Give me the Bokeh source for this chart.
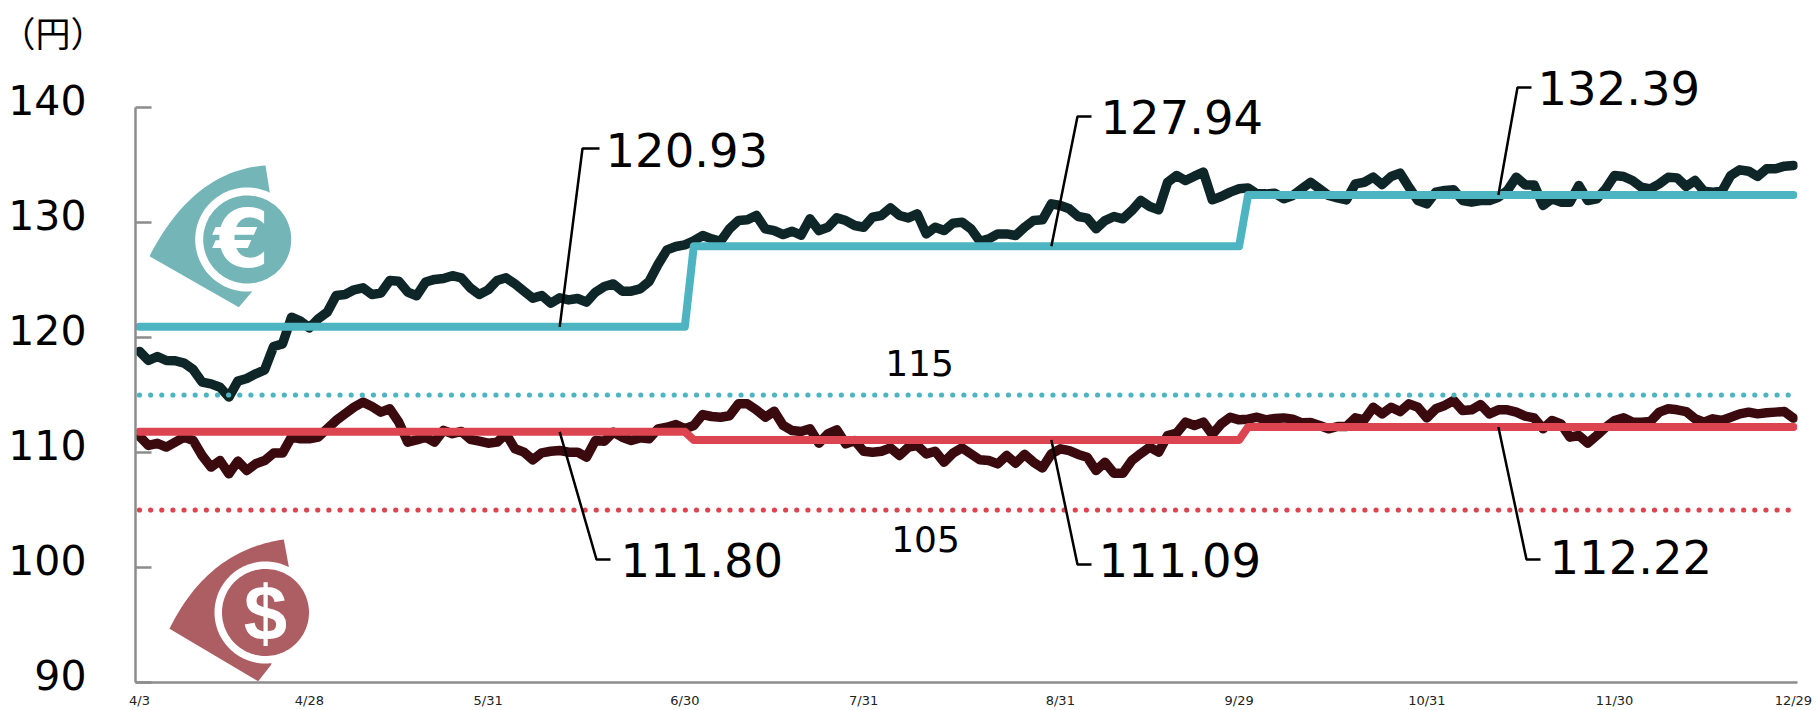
import numpy as np
from bokeh.plotting import figure
from bokeh.models import Range1d, LinearAxis, FixedTicker
from bokeh.core.properties import value
from bokeh.embed import file_html
from bokeh.resources import INLINE

# ---- data ----
eur = [118.79,118.0,118.35,118.0,117.98,117.77,117.22,116.12,115.97,115.68,114.82,116.21,116.44,116.84,117.19,119.22,119.45,121.77,121.42,120.84,
121.63,122.2,123.66,123.74,124.15,124.32,123.74,123.86,124.96,124.9,123.95,123.63,124.82,125.05,125.13,125.37,125.19,124.32,123.74,124.14,
124.95,125.19,124.66,124.03,123.42,123.65,122.98,123.45,123.27,123.39,123.07,123.94,124.43,124.66,124.03,124.03,124.23,124.87,126.34,127.62,
127.91,128.05,128.4,128.87,128.58,128.37,129.45,130.17,130.23,130.61,129.45,129.3,128.95,129.24,128.9,130.32,129.3,129.59,130.4,130.17,
129.74,129.59,130.46,130.61,131.27,130.61,130.4,130.75,129.01,129.59,129.3,129.94,130.03,129.45,128.37,128.58,129.01,129.01,128.87,129.59,
130.17,130.23,131.62,131.48,131.19,130.52,130.38,129.45,130.17,130.52,130.32,131.04,131.91,131.39,131.1,133.5,134.09,133.65,134.03,134.38,
131.97,132.26,132.64,132.93,133.01,132.49,132.49,132.55,132.06,132.35,132.93,133.5,132.93,132.35,132.14,131.97,133.36,133.5,133.94,133.3,
134.0,134.29,133.07,131.91,131.62,132.64,132.78,132.84,131.91,131.77,131.91,131.91,132.2,132.78,133.94,133.27,133.27,131.48,132.06,131.77,
131.77,133.22,131.91,132.06,132.93,134.09,134.0,133.65,133.07,132.93,133.36,133.94,133.88,133.13,133.65,132.72,132.64,132.72,134.09,134.58,
134.46,134.0,134.67,134.67,134.9,134.96]
usd = [111.42,110.61,110.8,110.47,110.9,111.34,111.05,109.74,108.73,109.3,108.15,109.25,108.44,109.02,109.3,109.95,109.95,111.34,111.19,111.19,
111.34,112.06,112.79,113.37,113.95,114.38,114.0,113.51,113.8,112.64,110.9,111.1,111.34,110.9,111.92,111.63,111.83,111.15,110.98,110.81,
110.9,111.62,110.32,110.03,109.36,109.97,110.11,110.17,110.03,110.03,109.59,111.04,110.98,111.77,111.33,111.04,111.27,111.19,112.06,112.2,
112.43,112.06,112.35,113.3,113.13,113.07,113.2,114.23,114.23,113.71,113.07,113.59,112.35,111.91,111.82,112.06,110.81,111.62,111.97,110.75,
111.04,110.11,110.03,110.11,110.4,109.74,110.46,110.61,109.88,110.11,109.16,109.94,110.4,109.88,109.36,109.3,109.01,109.74,109.07,109.83,
109.16,108.66,109.88,110.32,110.17,109.83,109.59,108.43,109.16,108.2,108.2,109.3,109.91,110.46,110.03,111.48,111.68,112.64,112.35,112.64,
111.57,112.49,113.07,112.84,112.9,113.07,112.84,112.96,113.01,112.9,112.58,112.61,112.35,112.06,112.26,112.26,113.01,112.84,113.94,113.36,
113.94,113.56,114.23,113.94,113.01,113.8,114.09,114.52,113.65,113.71,114.17,113.36,113.71,113.71,113.51,113.16,113.01,112.06,112.78,112.49,
111.33,111.48,110.81,111.48,112.2,112.78,113.01,112.64,112.64,112.7,113.51,113.8,113.71,113.56,112.93,112.64,112.93,112.78,113.07,113.36,
113.51,113.36,113.45,113.51,113.56,112.99]
eur_rates = [120.93, 127.94, 132.39]
usd_rates = [111.80, 111.09, 112.22]
period_starts = [0, 62, 124]
eur_assumed = 115
usd_assumed = 105
tick_idx = [0, 19, 39, 61, 81, 103, 123, 144, 165, 185]
tick_labels = ["4/3", "4/28", "5/31", "6/30", "7/31", "8/31", "9/29", "10/31", "11/30", "12/29"]
y_ticks = [90, 100, 110, 120, 130, 140]
unit_label = "（円）"

# ---- page geometry: pixel <-> data helpers ----
X0, STEP = 139.0, 8.94          # page x of first point, px per trading day
Y140, PXU = 107.0, 11.5         # page y of 140, px per yen
FL, FR, FT, FB = 135, 1797, 58, 682
W, H = 1812, 710
def dx(px): return (np.asarray(px, dtype=float) - X0) / STEP
def dy(py): return 140 - (np.asarray(py, dtype=float) - Y140) / PXU

n = len(eur)
idx = np.arange(n)
def steps(rates):
    a = np.zeros(n)
    for r, s in zip(rates, period_starts):
        a[s:] = r
    return a

p = figure(width=W, height=H, output_backend="svg", toolbar_location=None,
           x_range=Range1d(float(dx(FL)), float(dx(FR))),
           y_range=Range1d(float(dy(FB)), float(dy(FT))),
           x_axis_type=None, y_axis_type=None,
           min_border_left=FL, min_border_right=W-FR,
           min_border_top=FT, min_border_bottom=H-FB,
           outline_line_color=None, background_fill_color="white", border_fill_color="white",
           title=unit_label)
p.grid.visible = False
p.title.align = "left"
p.title.vertical_align = "top"
p.title.offset = -FL
p.title.text_font = "Noto Sans CJK JP"
p.title.text_font_size = "35px"
p.title.text_font_style = "normal"
p.title.text_color = "black"
p.title.standoff = 0

AX = "#8c8c8c"
# main y axis (ticks only)
yaxis = LinearAxis(ticker=FixedTicker(ticks=y_ticks), bounds=(90, 140),
                   axis_line_color=AX, axis_line_width=2.5,
                   major_tick_line_color=AX, major_tick_line_width=2.5,
                   major_tick_in=16, major_tick_out=0, minor_tick_line_color=None,
                   major_label_overrides={t: "" for t in y_ticks},
                   major_label_standoff=0, major_label_text_font_size="1px")
p.add_layout(yaxis, "left")
# y labels sit about 8 px above their ticks
shift = 8 / PXU
p.extra_y_ranges["labels"] = Range1d(float(dy(FB)) - shift, float(dy(FT)) - shift)
ylab = LinearAxis(y_range_name="labels", ticker=FixedTicker(ticks=y_ticks),
                  axis_line_color=None, major_tick_line_color=None, minor_tick_line_color=None,
                  major_tick_in=0, major_tick_out=0,
                  major_label_text_font=("DejaVu Sans"), major_label_text_font_size="41px",
                  major_label_text_color="#000000", major_label_standoff=49)
p.add_layout(ylab, "left")
# x axis
xaxis = LinearAxis(ticker=FixedTicker(ticks=tick_idx),
                   major_label_overrides=dict(zip(tick_idx, tick_labels)),
                   axis_line_color=AX, axis_line_width=2.5,
                   major_tick_line_color=None, minor_tick_line_color=None,
                   major_tick_in=0, major_tick_out=0,
                   major_label_standoff=10,
                   major_label_text_font="DejaVu Sans", major_label_text_font_size="13px",
                   major_label_text_color="#222222")
p.add_layout(xaxis, "below")

# ---- icons ----
def wedge(A, B, C, D, E, ctrl):
    t = np.linspace(0, 1, 40)
    bx = (1-t)**2*E[0] + 2*t*(1-t)*ctrl[0] + t**2*A[0]
    by = (1-t)**2*E[1] + 2*t*(1-t)*ctrl[1] + t**2*A[1]
    xs = list(bx) + [B[0], C[0], D[0]]
    ys = list(by) + [B[1], C[1], D[1]]
    return dx(xs), dy(ys)
def disc(cx, cy, r, xmax=None):
    a = np.linspace(0, 2*np.pi, 120)
    xs = cx + r*np.cos(a)
    if xmax is not None:
        xs = np.minimum(xs, xmax)
    return dx(xs), dy(cy + r*np.sin(a))

TEAL_I, RED_I = "#74b5b7", "#ad5e62"
x, y = wedge((265,165),(269.3,192.3),(251.7,291),(238.3,306.7),(149,255.7),(193,170))
p.patch(x, y, color=TEAL_I, line_width=0)
x, y = disc(246.7, 239, 52); p.patch(x, y, color="white", line_width=0)
x, y = disc(246.7, 239, 44); p.patch(x, y, color=TEAL_I, line_width=0)
x, y = wedge((283.3,539),(288.3,566),(270.7,664.3),(257.7,680.7),(169,628.3),(207.4,549.7))
p.patch(x, y, color=RED_I, line_width=0)
x, y = disc(265, 612, 51); p.patch(x, y, color="white", line_width=0)
x, y = disc(265, 612, 43.5, xmax=308.5); p.patch(x, y, color=RED_I, line_width=0)
p.text([float(dx(241))], [float(dy(239))], text=["€"], text_color="white", text_font=value("DejaVu Sans"),
       text_font_style="bold", text_font_size="80px", text_align="center", text_baseline="middle")
p.text([float(dx(265))], [float(dy(612))], text=["$"], text_color="white", text_font=value("Liberation Sans"),
       text_font_style="bold", text_font_size="78px", text_align="center", text_baseline="middle")

# ---- series ----
p.line(idx, eur, line_color="#0f2628", line_width=9.5, line_join="round", line_cap="round")
p.line(idx, usd, line_color="#3b0a0e", line_width=9.5, line_join="round", line_cap="round")
p.line(idx, steps(eur_rates), line_color="#4db5c2", line_width=8, line_join="round", line_cap="round")
p.line(idx, steps(usd_rates), line_color="#dc4550", line_width=8, line_join="round", line_cap="round")

# dotted assumed-rate lines
dots = np.arange(0.0, 184.6, 11.14 / STEP)
p.scatter(dots, [eur_assumed]*len(dots), size=5.2, color="#4db5c2", line_width=0)
p.scatter(dots, [usd_assumed]*len(dots), size=5.2, color="#dc4550", line_width=0)

# ---- leaders & rate labels: anchor index on step line, elbow and end in page px ----
leaders = [
    (eur_rates[0], 47.0, (582,148), (599,148), (605,149)),
    (eur_rates[1], 102.0, (1077,116), (1091,116), (1100,116)),
    (eur_rates[2], 152.0, (1517,87), (1531,87), (1537,87)),
    (usd_rates[0], 47.0, (596,559), (610,559), (620,559)),
    (usd_rates[1], 102.0, (1077,564), (1091,564), (1098,559)),
    (usd_rates[2], 152.0, (1526,559), (1540,559), (1549,556)),
]
for v, i, elbow, end, txt in leaders:
    p.line([i, float(dx(elbow[0])), float(dx(end[0]))], [v, float(dy(elbow[1])), float(dy(end[1]))],
           line_color="black", line_width=2.5)
    p.text([float(dx(txt[0]))], [float(dy(txt[1]))], text=[f"{v:.2f}"], text_color="black",
           text_font=value("DejaVu Sans"), text_font_size="46.5px", text_align="left", text_baseline="middle")

p.text([float(dx(919))], [float(dy(362))], text=[str(eur_assumed)], text_color="black",
       text_font=value("DejaVu Sans"), text_font_size="36px", text_align="center", text_baseline="middle")
p.text([float(dx(925))], [float(dy(538))], text=[str(usd_assumed)], text_color="black",
       text_font=value("DejaVu Sans"), text_font_size="36px", text_align="center", text_baseline="middle")

open("out.html", "w").write(file_html(p, INLINE))
